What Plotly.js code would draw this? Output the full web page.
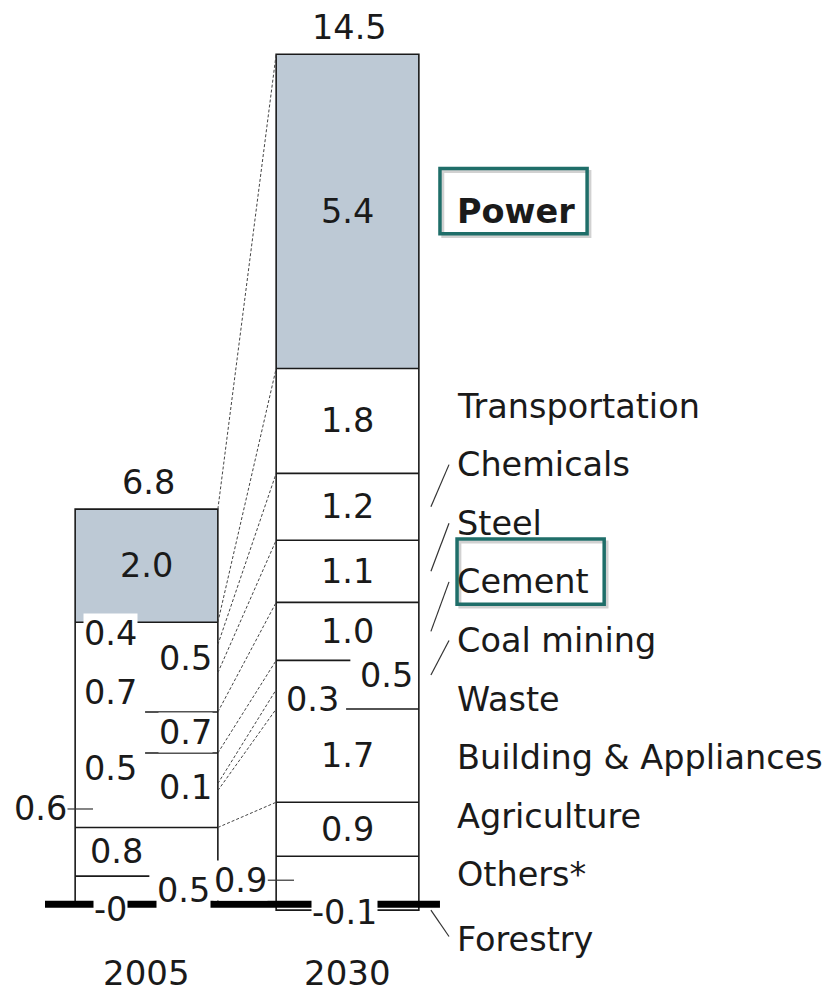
<!DOCTYPE html>
<html>
<head>
<meta charset="utf-8">
<script src="https://cdn.plot.ly/plotly-3.0.1.min.js"></script>
<style>
  html, body { margin: 0; padding: 0; background: #ffffff; }
  #chart { width: 837px; height: 994px; }
</style>
</head>
<body>
<div id="chart"></div>
<script>
// ---------------- DATA ----------------
const years = ['2005', '2030'];
const categories = ['Power', 'Transportation', 'Chemicals', 'Steel', 'Cement', 'Coal mining',
                    'Waste', 'Building & Appliances', 'Agriculture', 'Others*', 'Forestry'];
// segment heights
const values2005 = [1.93, 0.38, 0.48, 0.67, 0.70, 0.52, 0.12, 0.63, 0.83, 0.48, 0.00];
const values2030 = [5.36, 1.79, 1.14, 1.06, 0.99, 0.50, 0.33, 1.59, 0.92, 0.82, -0.10];
// printed labels
const labels2005 = ['2.0', '0.4', '0.5', '0.7', '0.7', '0.5', '0.1', '0.6', '0.8', '0.5', '-0'];
const labels2030 = ['5.4', '1.8', '1.2', '1.1', '1.0', '0.5', '0.3', '1.7', '0.9', '0.9', '-0.1'];
const totalLabels = ['6.8', '14.5'];

// ---------------- LAYOUT HELPERS (positions / styles) ----------------
const BAR_W = 0.71;
const FONT = 'DejaVu Sans, Arial, sans-serif';
const FS = 33.5;
const TXT = '#1a1a1a';
const GREY = '#bdc9d5';
const TEAL = '#1f6e69';
// horizontal position of each value label, as a fraction of the bar width
const labelPos2005 = [0.5, 0.25, 0.77, 0.25, 0.77, 0.25, 0.77, -0.245, 0.29, 0.76, 0.25];
const labelPos2030 = [0.5, 0.5, 0.5, 0.5, 0.5, 0.77, 0.255, 0.5, 0.5, -0.25, 0.48];
// divider drawn below each segment: F full, L left part, R right part, '' none
const divider2005 = ['F', '', '', 'R', 'R', '', '', 'F', 'L', ''];
const divider2030 = ['F', 'F', 'F', 'F', 'L', '', 'R', 'F', 'F', ''];
const spanOf = { F: [0, 1], L: [0, 0.52], R: [0.49, 1] };
// vertical rows for the category names
const catRowY = [null, 8.5, 7.5, 6.5, 5.5, 4.5, 3.5, 2.5, 1.5, 0.5, -0.6];
const leaderCats = ['Chemicals', 'Steel', 'Cement', 'Coal mining', 'Forestry'];
const boxedCats = ['Power', 'Cement'];

function stack(vals) {
  const base = new Array(vals.length);
  let cum = 0;
  for (let i = vals.length - 1; i >= 0; i--) {
    if (vals[i] >= 0) { base[i] = cum; cum += vals[i]; }
  }
  let neg = 0;
  for (let i = 0; i < vals.length; i++) {
    if (vals[i] < 0) { base[i] = neg; neg += vals[i]; }
  }
  return { base: base, top: cum, bottom: neg };
}

const allVals = [values2005, values2030];
const allLabels = [labels2005, labels2030];
const allPos = [labelPos2005, labelPos2030];
const allDiv = [divider2005, divider2030];
const stacks = allVals.map(stack);

const traces = [];
const shapes = [];
const annotations = [];

// filled segments
allVals.forEach(function (vals, k) {
  traces.push({
    type: 'bar',
    x: vals.map(function () { return k; }),
    y: vals,
    base: stacks[k].base,
    width: vals.map(function () { return BAR_W; }),
    marker: {
      color: vals.map(function (v, i) { return i === 0 ? GREY : '#ffffff'; }),
      line: { width: 0 }
    },
    hoverinfo: 'skip',
    showlegend: false
  });
});

// outline of each bar
traces.push({
  type: 'bar',
  x: [0, 1],
  y: stacks.map(function (s) { return s.top - s.bottom; }),
  base: stacks.map(function (s) { return s.bottom; }),
  width: [BAR_W, BAR_W],
  marker: { color: 'rgba(0,0,0,0)', line: { color: '#1a1a1a', width: 1.6 } },
  hoverinfo: 'skip',
  showlegend: false
});

// dashed connectors between corresponding segment tops
const cx = [], cy = [];
for (let i = 0; i < 9; i++) {
  cx.push(0 + BAR_W / 2, 1 - BAR_W / 2, null);
  cy.push(stacks[0].base[i] + values2005[i], stacks[1].base[i] + values2030[i], null);
}
traces.push({
  type: 'scatter', mode: 'lines', x: cx, y: cy,
  line: { color: '#444444', width: 1, dash: '3px,2px' },
  hoverinfo: 'skip', showlegend: false
});

// dividers
allVals.forEach(function (vals, k) {
  const left = k - BAR_W / 2;
  allDiv[k].forEach(function (d, i) {
    if (!d) return;
    const sp = spanOf[d];
    shapes.push({
      type: 'line', xref: 'x', yref: 'y',
      x0: left + sp[0] * BAR_W, x1: left + sp[1] * BAR_W,
      y0: stacks[k].base[i], y1: stacks[k].base[i],
      line: { color: '#1a1a1a', width: 1.6 }, layer: 'above'
    });
  });
});

// thick baseline
shapes.push({
  type: 'line', xref: 'x', yref: 'y', x0: -0.505, x1: 1.46, y0: 0, y1: 0,
  line: { color: '#000000', width: 7 }, layer: 'above'
});

// value labels
allVals.forEach(function (vals, k) {
  const left = k - BAR_W / 2;
  vals.forEach(function (v, i) {
    const mid = stacks[k].base[i] + v / 2;
    const fx = allPos[k][i];
    annotations.push({
      xref: 'x', yref: 'y', x: left + fx * BAR_W, y: mid,
      text: allLabels[k][i], showarrow: false,
      xanchor: 'center', yanchor: 'middle',
      yshift: i === vals.length - 1 ? -5 : 0,
      font: { family: FONT, size: FS, color: TXT },
      bgcolor: i === 0 ? 'rgba(0,0,0,0)' : '#ffffff',
      borderpad: 0
    });
    if (fx < 0) {
      shapes.push({
        type: 'line', xref: 'x', yref: 'y',
        x0: left - 0.06 * BAR_W, x1: left + 0.125 * BAR_W, y0: mid, y1: mid,
        line: { color: '#333333', width: 1.2 }, layer: 'above'
      });
    }
  });
  // totals
  annotations.push({
    xref: 'x', yref: 'y', x: k + 0.01, y: stacks[k].top + 0.46,
    text: totalLabels[k], showarrow: false, xanchor: 'center', yanchor: 'middle',
    font: { family: FONT, size: FS, color: TXT }
  });
  // year label under each bar
  annotations.push({
    xref: 'x', yref: 'paper', x: k, y: 0,
    text: years[k], showarrow: false, xanchor: 'center', yanchor: 'middle',
    yshift: -16,
    font: { family: FONT, size: 34, color: TXT }
  });
});

// category names on the right
const LABEL_X = 1.535;
const lx = [], ly = [];
categories.forEach(function (c, i) {
  const y = i === 0 ? stacks[1].base[0] + values2030[0] / 2 : catRowY[i];
  annotations.push({
    xref: 'x', yref: 'y', x: LABEL_X, y: y,
    text: i === 0 ? '<b>' + c + '</b>' : c, showarrow: false,
    xanchor: 'left', yanchor: 'middle',
    font: { family: FONT, size: FS, color: TXT }
  });
  if (leaderCats.indexOf(c) >= 0) {
    const segY = c === 'Forestry' ? stacks[1].base[i] + values2030[i]
                                  : stacks[1].base[i] + values2030[i] / 2;
    lx.push(1 + BAR_W / 2 + 0.06, 1.505, null);
    ly.push(segY, c === 'Forestry' ? y + 0.05 : y, null);
  }
  if (boxedCats.indexOf(c) >= 0) {
    const bx0 = c === 'Power' ? 1.46 : 1.545;
    const bx1 = bx0 + 0.732;
    shapes.push({
      type: 'rect', xref: 'x', yref: 'y',
      x0: bx0 + 0.014, x1: bx1 + 0.014, y0: y - 0.38 - 0.05, y1: y + 0.73 - 0.05,
      line: { color: 'rgba(0,0,0,0.18)', width: 3 }, layer: 'above'
    });
    shapes.push({
      type: 'rect', xref: 'x', yref: 'y',
      x0: bx0, x1: bx1, y0: y - 0.38, y1: y + 0.73,
      line: { color: TEAL, width: 3.5 }, layer: 'above'
    });
  }
});
traces.push({
  type: 'scatter', mode: 'lines', x: lx, y: ly,
  line: { color: '#333333', width: 1.2 },
  hoverinfo: 'skip', showlegend: false
});

const layout = {
  width: 837, height: 994,
  margin: { l: 0, r: 0, t: 25, b: 37 },
  paper_bgcolor: '#ffffff', plot_bgcolor: '#ffffff',
  barmode: 'overlay',
  showlegend: false,
  hovermode: false,
  xaxis: {
    range: [-0.7289, 3.4353], fixedrange: true,
    showticklabels: false,
    showgrid: false, zeroline: false, showline: false, ticks: ''
  },
  yaxis: {
    range: [-0.9, 15.0], visible: false, fixedrange: true,
    showgrid: false, zeroline: false
  },
  shapes: shapes,
  annotations: annotations
};

Plotly.newPlot('chart', traces, layout, { displayModeBar: false, staticPlot: true });
</script>
</body>
</html>
